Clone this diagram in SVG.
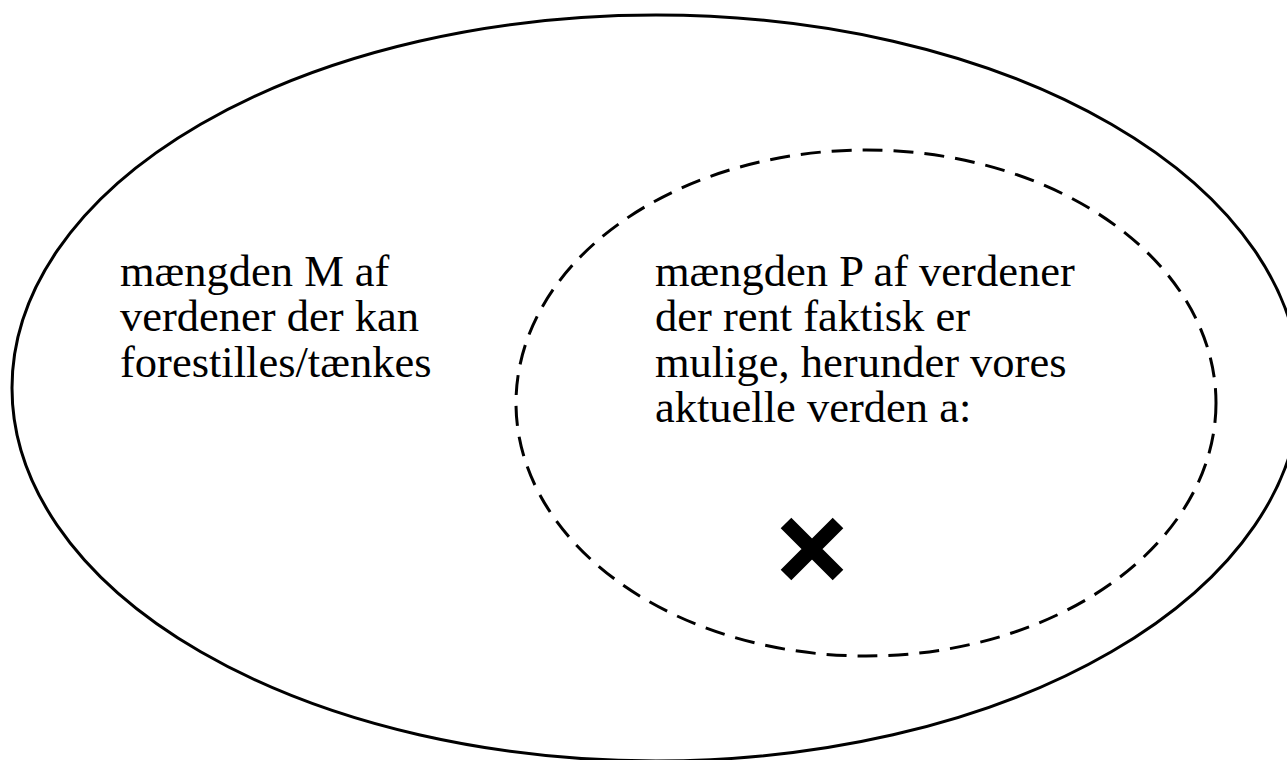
<svg xmlns="http://www.w3.org/2000/svg" width="1287" height="760" viewBox="0 0 1287 760">
  <style>
    .label { font-family: "Liberation Serif", "Times New Roman", serif; font-size: 44.5px; fill: #000; }
    .outer { fill: none; stroke: #000; stroke-width: 3; }
    .inner { fill: none; stroke: #000; stroke-width: 3; stroke-dasharray: 20 11; }
    .mark { stroke: #000; stroke-width: 15; stroke-linecap: butt; }
  </style>
  <rect width="1287" height="760" fill="#fff"/>

  <!-- Set M: all conceivable worlds -->
  <g id="set-M">
    <ellipse class="outer" cx="656" cy="388" rx="644" ry="373"/>
    <text class="label">
      <tspan x="120" y="286">mængden M af</tspan>
      <tspan x="120" y="331">verdener der kan</tspan>
      <tspan x="120" y="377">forestilles/tænkes</tspan>
    </text>
  </g>

  <!-- Set P: factually possible worlds -->
  <g id="set-P">
    <ellipse class="inner" cx="866" cy="403" rx="350" ry="253"/>
    <text class="label">
      <tspan x="655" y="286">mængden P af verdener</tspan>
      <tspan x="655" y="331">der rent faktisk er</tspan>
      <tspan x="655" y="377">mulige, herunder vores</tspan>
      <tspan x="655" y="422">aktuelle verden a:</tspan>
    </text>
  </g>

  <!-- Actual world a -->
  <g id="world-a">
    <path class="mark" d="M786 523 L838 575 M838 523 L786 575"/>
  </g>
</svg>
